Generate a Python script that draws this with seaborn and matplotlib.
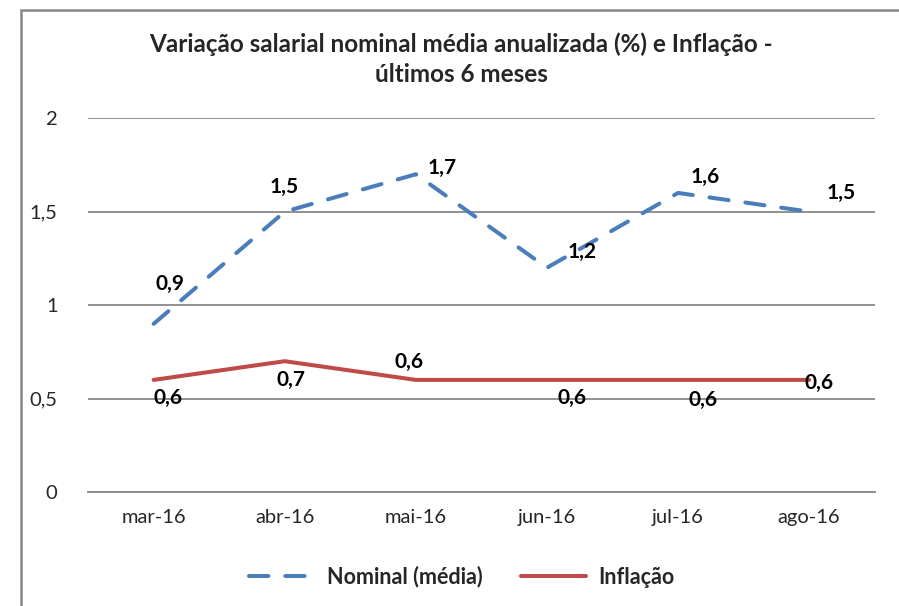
import pandas as pd
import seaborn as sns
import matplotlib.pyplot as plt
from matplotlib.patches import Rectangle

# data
meses = ['mar-16', 'abr-16', 'mai-16', 'jun-16', 'jul-16', 'ago-16']
nominal = [0.9, 1.5, 1.7, 1.2, 1.6, 1.5]
inflacao = [0.6, 0.7, 0.6, 0.6, 0.6, 0.6]
series_names = ['Nominal (média)', 'Inflação']

# label offsets in pixels (style only)
nom_offsets = [(16, 40), (-1, 25), (26, 6), (35, 16), (27, 16), (32, 19)]
inf_offsets = [(14, -18), (6, -19), (-7, 18), (25, -18), (25, -20), (10, -3)]

df = pd.DataFrame({
    'mes': meses * 2,
    'pos': list(range(len(meses))) * 2,
    'valor': nominal + inflacao,
    'serie': [series_names[0]] * len(meses) + [series_names[1]] * len(meses),
})

sns.set_style('white')
plt.rcParams['font.family'] = ['Lato', 'DejaVu Sans']

fig = plt.figure(figsize=(8.99, 6.06), dpi=100)
ax = fig.add_axes([0.098, 0.188, 0.875, 0.617])

palette = {series_names[0]: '#4A7EBB', series_names[1]: '#BE4B48'}
sns.lineplot(data=df, x='pos', y='valor', hue='serie', style='serie',
             palette=palette, dashes={series_names[0]: (4.8, 4.2), series_names[1]: ''},
             linewidth=2.9, ax=ax, legend=True)
for ln in ax.get_lines():
    ln.set_dash_capstyle('round')
    ln.set_solid_capstyle('round')
    ln.set_solid_joinstyle('round')

for vals, offs in [(nominal, nom_offsets), (inflacao, inf_offsets)]:
    for i, (v, o) in enumerate(zip(vals, offs)):
        ax.annotate(f'{v:.1f}'.replace('.', ','), (i, v), xytext=o,
                    textcoords='offset pixels', ha='center', va='center',
                    fontsize=15, fontweight='bold', color='black')

ax.set_xlim(-0.5, 5.5)
ax.set_ylim(0, 2)
ax.set_yticks([0, 0.5, 1, 1.5, 2])
ax.set_yticklabels(['0', '0,5', '1', '1,5', '2'])
ax.set_xticks(range(len(meses)))
ax.set_xticklabels(meses)
ax.tick_params(axis='both', labelsize=14.5, length=0, pad=12)
ax.tick_params(axis='y', pad=22)
ax.yaxis.grid(True, color='#888888', linewidth=1.3)
ax.set_axisbelow(True)
for s in ['top', 'right', 'left']:
    ax.spines[s].set_visible(False)
ax.spines['bottom'].set_color('#888888')
ax.spines['bottom'].set_linewidth(1.3)
ax.set_xlabel('')
ax.set_ylabel('')

handles, labels = ax.get_legend_handles_labels()
for h in handles:
    h.set_dash_capstyle('round')
    h.set_solid_capstyle('round')
leg = ax.legend(handles, labels, loc='center', bbox_to_anchor=(0.514, 0.048),
                bbox_transform=fig.transFigure, ncol=2, frameon=False,
                prop={'weight': 'bold', 'size': 15.5}, handlelength=3.0,
                handletextpad=0.6, columnspacing=1.8)

fig.text(0.513, 0.927, 'Variação salarial nominal média anualizada (%) e Inflação -',
         ha='center', va='center', fontsize=17.5, fontweight='bold')
fig.text(0.513, 0.877, 'últimos 6 meses', ha='center', va='center',
         fontsize=17.5, fontweight='bold')

fig.patches.append(Rectangle((0.023, -0.02), 1.0, 1.003, transform=fig.transFigure,
                             fill=False, edgecolor='#888888', linewidth=1.8))

fig.savefig('out.png', dpi=100)
